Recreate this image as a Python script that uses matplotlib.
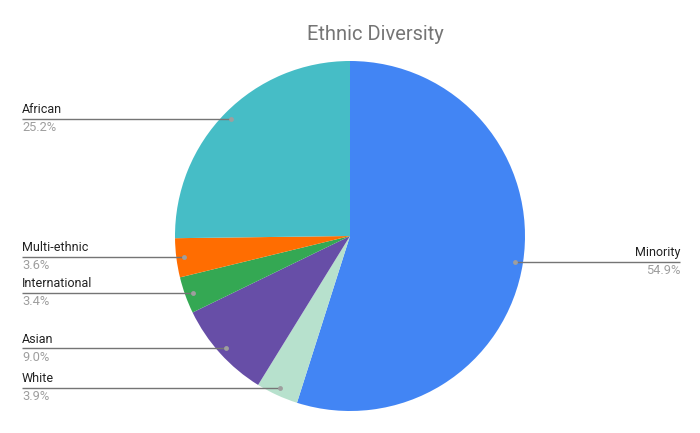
import numpy as np
import matplotlib.pyplot as plt

plt.rcParams['font.family'] = ['Roboto', 'DejaVu Sans']

groups = ['Minority', 'White', 'Asian', 'International', 'Multi-ethnic', 'African']
shares = [54.9, 3.9, 9.0, 3.4, 3.6, 25.2]
colors = ['#4285F4', '#B7E1CD', '#674EA7', '#34A853', '#FF6D01', '#46BDC6']


def main():
    fig = plt.figure(figsize=(7, 4.33), dpi=100)
    ax = fig.add_axes([0, 0, 1, 1])

    cx, cy, r = 350, 433 - 236, 175
    wedges, _ = ax.pie(shares, colors=colors, startangle=90, counterclock=False,
                       center=(cx, cy), radius=r,
                       wedgeprops=dict(linewidth=0))

    total = sum(shares)
    start = 90.0
    for name, val in zip(groups, shares):
        span = val / total * 360
        mid = np.radians(start - span / 2)
        start -= span
        px = cx + 0.955 * r * np.cos(mid)
        py = cy + 0.955 * r * np.sin(mid)
        if px > cx:
            x0, x1, xt, ha = px, 680, 680, 'right'
        else:
            x0, x1, xt, ha = 22, px, 22, 'left'
        ax.plot([x0, x1], [py, py], color='#757575', lw=1, solid_capstyle='butt')
        ax.plot(px, py, 'o', color='#9e9e9e', ms=3.5, mec='none')
        ax.text(xt, py + 2.5, name, ha=ha, va='bottom', fontsize=9, color='#222222')
        ax.text(xt, py - 2.5, f'{val:.1f}%', ha=ha, va='top', fontsize=9.3, color='#9e9e9e')

    ax.set_xlim(0, 700)
    ax.set_ylim(0, 433)
    ax.set_aspect('equal')
    ax.axis('off')
    fig.text(375 / 700, 1 - 35 / 433, 'Ethnic Diversity', ha='center', va='center',
             fontsize=14.5, color='#757575')
    fig.savefig('out.png', dpi=100, facecolor='white')


if __name__ == '__main__':
    main()
